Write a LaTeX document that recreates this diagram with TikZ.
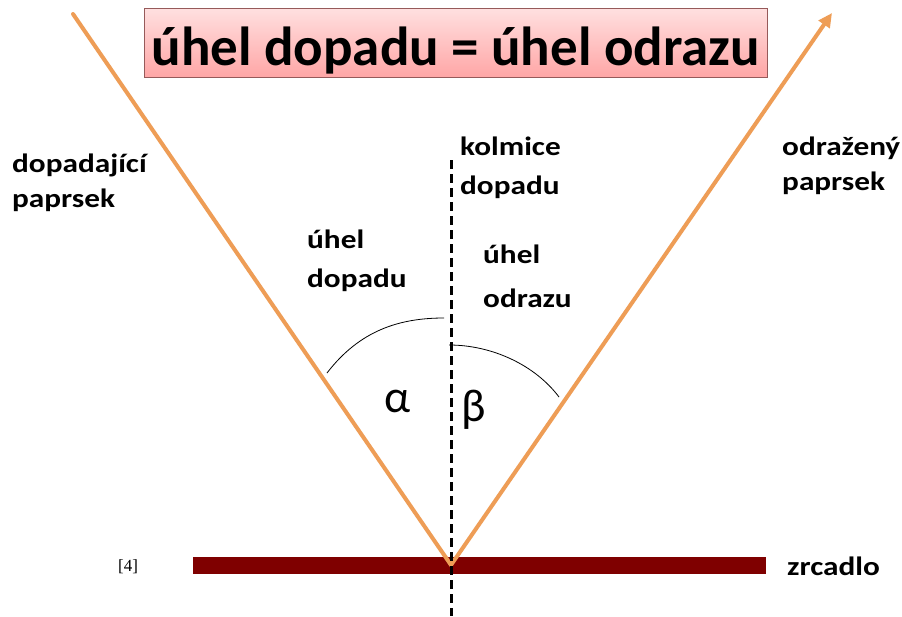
\documentclass[tikz,border=0pt]{standalone}
\usepackage{fontspec}
\setmainfont{Carlito}
\newfontfamily\lblfont[FakeStretch=1.18]{Carlito}
\newfontfamily\reffont{Liberation Serif}
\usetikzlibrary{arrows.meta}
\definecolor{raycol}{RGB}{238,157,86}
\definecolor{mirrorcol}{RGB}{127,0,0}
\definecolor{boxtop}{RGB}{255,224,224}
\definecolor{boxbot}{RGB}{255,166,166}
\definecolor{boxedge}{RGB}{150,90,90}
\begin{document}
\begin{tikzpicture}[x=1pt,y=-1pt,
  lbl/.style={anchor=base west,inner sep=0pt,font=\lblfont\bfseries\fontsize{26.5}{26.5}\selectfont},
  greek/.style={anchor=base west,inner sep=0pt,font=\fontsize{46}{46}\selectfont},
  titlebox/.style={anchor=base,inner sep=0pt,text height=57pt,text depth=12pt,minimum width=623pt,
    draw=boxedge,line width=0.8pt,top color=boxtop,bottom color=boxbot,
    font=\bfseries\fontsize{55}{55}\selectfont},
  raystyle/.style={draw=raycol,line width=4pt,line cap=round,line join=miter},
  normal/.style={draw=black,line width=3pt,dash pattern=on 9pt off 5pt},
  anglearc/.style={draw=black,line width=0.8pt}]
\useasboundingbox (0,0) rectangle (902,616);
\fill[white] (0,0) rectangle (902,616);

% mirror
\fill[mirrorcol] (193,557) rectangle (766,574);

% coordinates
\coordinate (A) at (73,14);
\coordinate (O) at (451,565);
\coordinate (B) at (832,13);
\coordinate (N1) at (451,160);
\coordinate (N2) at (451,616);

% rays
\draw[raystyle,-{Triangle[length=14pt,width=13pt]}] (A) -- (O) -- (B);

% normal
\draw[normal] (N1) -- (N2);

% angle arcs
\coordinate (a1) at (327,373);
\coordinate (a2) at (444,318);
\coordinate (b1) at (449,345);
\coordinate (b2) at (559,397);
\draw[anglearc] (a1) .. controls (360,330) and (400,318) .. (a2);
\draw[anglearc] (b1) .. controls (492,345) and (535,365) .. (b2);

% title
\node[titlebox] (title) at (455.5,65) {úhel dopadu = úhel odrazu};

% labels
\node[lbl] (inc1) at (12,172) {dopadající};
\node[lbl] (inc2) at (12,207) {paprsek};
\node[lbl] (kol1) at (460,155) {kolmice};
\node[lbl] (kol2) at (460,194) {dopadu};
\node[lbl] (ref1) at (782,155) {odražený};
\node[lbl] (ref2) at (782,190) {paprsek};
\node[lbl] (ud1) at (307,248) {úhel};
\node[lbl] (ud2) at (307,287) {dopadu};
\node[lbl] (uo1) at (483,263) {úhel};
\node[lbl] (uo2) at (483,307) {odrazu};
\node[lbl] (zr) at (787,575) {zrcadlo};
\node[greek] (alpha) at (384,412) {α};
\node[greek] (beta) at (461,421) {β};
\node[anchor=base west,inner sep=0pt,font=\reffont\fontsize{17}{17}\selectfont] (ref) at (118,571) {[4]};
\end{tikzpicture}
\end{document}
